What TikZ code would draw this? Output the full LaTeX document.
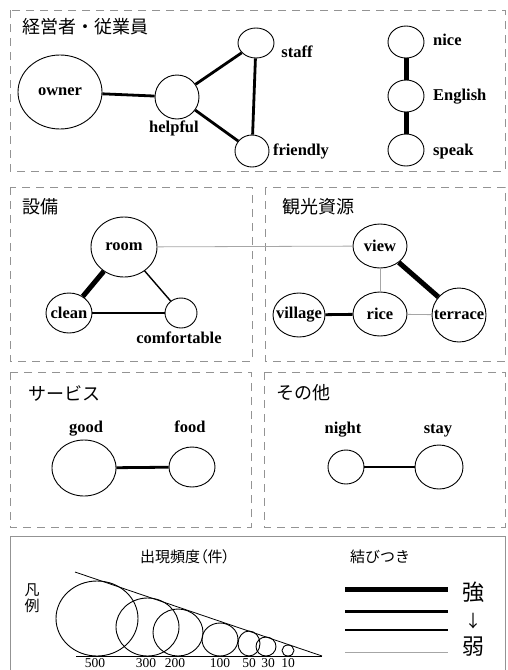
\documentclass[tikz,border=0pt]{standalone}
\usepackage{fontspec}
\setmainfont{Liberation Serif}
\newfontfamily\jp{Noto Sans CJK JP}
\newfontfamily\jpp[RawFeature=+palt]{Noto Sans CJK JP}
\usetikzlibrary{shapes.geometric}
\tikzset{
  bub/.style 2 args={ellipse, draw, line width=0.9pt, inner sep=0pt,
    minimum width=2*#1 pt, minimum height=2*#2 pt},
  lab/.style={font=\fontsize{16.5}{18}\selectfont\bfseries, inner sep=0pt},
  inlab/.style={label={[lab]center:#1}},
  panel/.style={draw=gray!85, dash pattern=on 8pt off 6pt, line width=0.8pt},
  ttl/.style={font=\jp\fontsize{18}{20}\selectfont, anchor=west, inner sep=0pt},
  eA/.style={line width=5pt},
  eB/.style={line width=2.8pt},
  eC/.style={line width=1.4pt},
  eD/.style={line width=0.8pt, draw=gray!70},
  num/.style={font=\fontsize{13.5}{15}\selectfont, anchor=base, inner sep=0pt},
  lgd/.style={font=\jp\fontsize{15}{17}\selectfont, inner sep=0pt},
}
\begin{document}
\begin{tikzpicture}[x=1pt,y=-1pt]
\useasboundingbox (0,0) rectangle (507,670);
% panels
\draw[panel] (10,10) rectangle (505,171);
\draw[panel] (10,187) rectangle (252,361);
\draw[panel] (265,187) rectangle (505,361);
\draw[panel] (10,372) rectangle (251,527);
\draw[panel] (264,372) rectangle (505,527);
\draw[draw=gray!85, line width=0.9pt] (10,674) |- (505,536) -- (505,674);

% ---- top panel
\node[ttl] (t1) at (22,27) {経営者・従業員};
\node[bub={42}{37}, inlab=owner] (owner) at (60,92) {};
\node[bub={22}{22}] (helpful) at (177,97) {};
\node[bub={18}{15}] (staff) at (256,43) {};
\node[bub={17}{16}] (friendly) at (252,151) {};
\node[bub={18}{16}] (nice) at (406,42) {};
\node[bub={18}{16}] (english) at (406,96) {};
\node[bub={18}{16}] (speak) at (406,150) {};
\node[lab, anchor=base] (helpful-l) at (174,132) {helpful};
\node[lab, anchor=base] (staff-l) at (297,57) {staff};
\node[lab, anchor=base] (friendly-l) at (301,155) {friendly};
\node[lab, anchor=base west] (nice-l) at (433,45) {nice};
\node[lab, anchor=base west] (english-l) at (433,100) {English};
\node[lab, anchor=base west] (speak-l) at (433,155) {speak};
\draw[eB] (owner) -- (helpful);
\draw[eB] (helpful) -- (staff);
\draw[eB] (helpful) -- (friendly);
\draw[eB] (staff) -- (friendly);
\draw[eA] (nice) -- (english);
\draw[eA] (english) -- (speak);

% ---- middle panels
\node[ttl] (t2) at (22,207) {設備};
\node[ttl] (t3) at (282,207) {観光資源};
\node[bub={33}{30}, inlab=room] (room) at (124,247) {};
\node[bub={23}{20}, inlab=clean] (clean) at (69,313) {};
\node[bub={16}{15}] (comf) at (181,313) {};
\node[lab, anchor=base] (comf-l) at (179,343) {comfortable};
\node[bub={27}{22}, inlab=view] (view) at (380,246) {};
\node[bub={26}{22}, inlab=village] (village) at (299,315) {};
\node[bub={27}{22}, inlab=rice] (rice) at (380,314) {};
\node[bub={27}{27}, inlab=terrace] (terrace) at (459,315) {};
\draw[eD] (room) -- (view);
\draw[eA] (room) -- (clean);
\draw[eC] (room) -- (comf);
\draw[eC] (clean) -- (comf);
\draw[eD] (view) -- (rice);
\draw[eA] (view) -- (terrace);
\draw[eB] (village) -- (rice);
\draw[eD] (rice) -- (terrace);

% ---- third row
\node[ttl] (t4) at (28,393) {サービス};
\node[ttl] (t5) at (276,393) {その他};
\node[bub={32}{28}] (good) at (84,468) {};
\node[bub={23}{20}] (food) at (192,467) {};
\node[bub={18}{17}] (night) at (346,467) {};
\node[bub={24}{22}] (stay) at (439,467) {};
\node[lab, anchor=base] (good-l) at (86,432) {good};
\node[lab, anchor=base] (food-l) at (190,432) {food};
\node[lab, anchor=base] (night-l) at (343,433) {night};
\node[lab, anchor=base] (stay-l) at (438,433) {stay};
\draw[eB] (good) -- (food);
\draw[eB] (night) -- (stay);

% ---- legend
\node[lgd, font=\jpp\fontsize{15}{17}\selectfont] (lt1) at (185,557) {出現頻度（件）};
\node[lgd] (lt2) at (380,557) {結びつき};
\node[lgd, align=center, font=\jp\fontsize{15}{16}\selectfont] (lt3) at (32,598) {凡\\例};
\coordinate (b0) at (76,656);
\coordinate (b1) at (322,656);
\coordinate (t0) at (75,572);
\draw[line width=0.8pt] (b0) -- (b1);
\draw[line width=0.8pt] (t0) -- (b1);
\node[bub={41}{37.5}] (c500) at (97,618.5) {};
\node[bub={31.5}{29}] (c300) at (147.5,627) {};
\node[bub={25}{23.5}] (c200) at (178,632.5) {};
\node[bub={18}{16.5}] (c100) at (220,639.5) {};
\node[bub={11}{12.5}] (c50) at (249,643.5) {};
\node[bub={10}{9.5}] (c30) at (266,646.5) {};
\node[bub={6}{5.5}] (c10) at (288,650.5) {};
\node[num] (n500) at (95,667) {500};
\node[num] (n300) at (146,667) {300};
\node[num] (n200) at (175,667) {200};
\node[num] (n100) at (220,667) {100};
\node[num] (n50) at (249,667) {50};
\node[num] (n30) at (268,667) {30};
\node[num] (n10) at (288,667) {10};
\draw[line width=5pt] (345,589) -- (448,589);
\draw[line width=3pt] (345,611) -- (448,611);
\draw[line width=1.3pt] (345,630) -- (448,630);
\draw[line width=0.8pt, draw=gray!70] (345,652) -- (448,652);
\node[lgd, font=\jp\fontsize{22}{24}\selectfont] (strong) at (473,592) {強};
\node[lgd, font=\jp\fontsize{17}{19}\selectfont] (arrow) at (473,621) {↓};
\node[lgd, font=\jp\fontsize{22}{24}\selectfont] (weak) at (473,647) {弱};
\end{tikzpicture}
\end{document}
